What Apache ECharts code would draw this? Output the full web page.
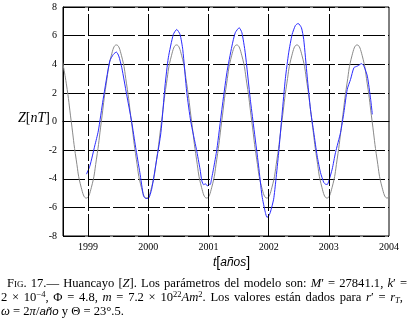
<!DOCTYPE html>
<html>
<head>
<meta charset="utf-8">
<script src="https://cdn.jsdelivr.net/npm/echarts@6/dist/echarts.min.js"></script>
<style>
  body { margin: 0; background: #fff; }
  #wrap { position: relative; width: 413px; height: 325px; }
  #chart { position: absolute; left: 0; top: 0; width: 413px; height: 325px; }
  #caption {
    position: absolute; left: 1px; top: 276px; width: 406px;
    font-family: "Liberation Serif", serif; font-size: 12.6px; line-height: 14px; color: #000;
  }
  #caption .j { text-align: justify; text-align-last: justify; }
  #caption .l1 { padding-left: 6px; }
  #caption .l2 { width: 402px; }
  #caption sup, #caption sub { font-size: 8.5px; line-height: 0; position: relative; vertical-align: baseline; }
  #caption sup { top: -4px; }
  #caption sub { top: 2px; }
  #caption .sc { font-variant: small-caps; }
  #caption .ss { font-family: "Liberation Sans", sans-serif; font-style: italic; font-size: 11.5px; }
</style>
</head>
<body>
<div id="wrap">
  <div id="chart"></div>
  <div id="caption">
    <div class="j l1"><span class="sc">Fig.</span> 17.— Huancayo [<i>Z</i>]. Los parámetros del modelo son: <i>M</i>′ = 27841.1, <i>k</i>′ =</div>
    <div class="j l2">2 × 10<sup>−4</sup>, Φ = 4.8, <i>m</i> = 7.2 × 10<sup>22</sup><i>Am</i><sup>2</sup>. Los valores están dados para <i>r</i>′ = <i>r<sub>T</sub></i>,</div>
    <div><i>ω</i> = 2<i>π</i>/<span class="ss">año</span> y Θ = 23°.5.</div>
  </div>
</div>
<script>
// ejes
const xTickLabels = [1999, 2000, 2001, 2002, 2003, 2004]
const yTickLabels = [-8, -6, -4, -2, 0, 2, 4, 6, 8]

// curva del modelo (gris)
const modelT = [
  1998.553, 1998.637, 1998.72, 1998.803, 1998.887,
  1998.97, 1999.053, 1999.137, 1999.22, 1999.303, 1999.387, 1999.47, 1999.553, 1999.637, 1999.72, 1999.803, 1999.887,
  1999.97, 2000.053, 2000.137, 2000.22, 2000.303, 2000.387, 2000.47, 2000.553, 2000.637, 2000.72, 2000.803, 2000.887,
  2000.97, 2001.053, 2001.137, 2001.22, 2001.303, 2001.387, 2001.47, 2001.553, 2001.637, 2001.72, 2001.803, 2001.887,
  2001.97, 2002.053, 2002.137, 2002.22, 2002.303, 2002.387, 2002.47, 2002.553, 2002.637, 2002.72, 2002.803, 2002.887,
  2002.97, 2003.053, 2003.137, 2003.22, 2003.303, 2003.387, 2003.47, 2003.553, 2003.637, 2003.72, 2003.803, 2003.887,
  2003.97, 2004.053
]
const modelZ = [
  4.63, 2.68, 0, -2.68, -4.63,
  -5.35, -4.63, -2.68, 0, 2.68, 4.63, 5.35, 4.63, 2.68, 0, -2.68, -4.63,
  -5.35, -4.63, -2.68, 0, 2.68, 4.63, 5.35, 4.63, 2.68, 0, -2.68, -4.63,
  -5.35, -4.63, -2.68, 0, 2.68, 4.63, 5.35, 4.63, 2.68, 0, -2.68, -4.63,
  -5.35, -4.63, -2.68, 0, 2.68, 4.63, 5.35, 4.63, 2.68, 0, -2.68, -4.63,
  -5.35, -4.63, -2.68, 0, 2.68, 4.63, 5.35, 4.63, 2.68, 0, -2.68, -4.63,
  -5.35, -4.63
]

// datos observados (azul)
const obsT = [
  1998.973, 1999.03, 1999.11, 1999.17, 1999.25, 1999.36, 1999.42, 1999.47, 1999.51, 1999.56, 1999.64, 1999.723, 1999.79, 1999.86, 1999.92, 1999.95, 2000.0,
  2000.056, 2000.14, 2000.21, 2000.278, 2000.333, 2000.416, 2000.473, 2000.528, 2000.573, 2000.64, 2000.706, 2000.8, 2000.86, 2000.89, 2000.92, 2000.95, 2000.98, 2001.01, 2001.03,
  2001.056, 2001.083, 2001.14, 2001.223, 2001.306, 2001.39, 2001.445, 2001.511, 2001.556, 2001.611, 2001.695, 2001.75, 2001.833, 2001.89, 2001.945, 2001.973, 2002.0, 2002.028,
  2002.083, 2002.12, 2002.166, 2002.223, 2002.278, 2002.333, 2002.39, 2002.445, 2002.49, 2002.545, 2002.583, 2002.64, 2002.695, 2002.75, 2002.806, 2002.861, 2002.916, 2002.945, 2002.975,
  2003.0, 2003.056, 2003.111, 2003.195, 2003.25, 2003.306, 2003.361, 2003.417, 2003.473, 2003.545, 2003.583, 2003.64, 2003.695, 2003.723
]
const obsZ = [
  -3.68, -3.1, -1.71, -0.66, 1.55, 4.22, 4.69, 4.85, 4.57, 3.76, 1.9, 0, -1.8, -3.57, -5.19, -5.36, -5.38,
  -4.73, -2.64, -0.77, 2.48, 4.45, 6.08, 6.43, 6.08, 5.03, 2.02, 0, -1.95, -3.33, -4.15, -4.42, -4.35, -4.5, -4.38, -4.4,
  -3.91, -3.33, -1.94, 0.85, 3.41, 5.27, 6.2, 6.55, 6.2, 4.8, 1.55, -0.31, -3.1, -5.2, -6.35, -6.7, -6.6, -6.35,
  -5.43, -4.1, -2.2, 0.5, 3.0, 4.8, 6.08, 6.71, 6.85, 6.55, 5.73, 3.17, 0.85, -0.77, -2.4, -3.56, -4.26, -4.38, -4.4,
  -4.15, -3.33, -2.17, -0.77, 0.62, 2.25, 2.94, 3.76, 3.87, 4.04, 3.87, 3.17, 1.55, 0.5
]

const chart = echarts.init(document.getElementById('chart'))
const dash = [22, 3]
const serif = '"Liberation Serif", serif'

const option = {
  animation: false,
  backgroundColor: '#fff',
  grid: {
    left: 63, right: 24, top: 7, bottom: 89,
    show: true, borderColor: '#000', borderWidth: 1,
  },
  xAxis: {
    type: 'value',
    min: 1998.583,
    max: 2004,
    axisLine: { show: true, lineStyle: { color: '#000', width: 1 } },
    axisTick: { show: false },
    splitLine: { show: false },
    axisLabel: {
      customValues: xTickLabels,
      formatter: v => String(Math.round(v)),
      color: '#000', fontFamily: serif, fontSize: 10, margin: 6,
    },
  },
  yAxis: {
    type: 'value',
    min: yTickLabels[0],
    max: yTickLabels[yTickLabels.length - 1],
    interval: 2,
    axisLine: { show: true, lineStyle: { color: '#000', width: 1 } },
    axisTick: { show: false },
    splitLine: { show: true, lineStyle: { color: '#000', width: 1, type: dash } },
    axisLabel: { color: '#000', fontFamily: serif, fontSize: 10, margin: 6 },
  },
  graphic: [
    {
      type: 'text', x: 18, y: 118,
      style: {
        text: '{i|Z}{r|[}{i|nT}{r|]}',
        verticalAlign: 'middle',
        rich: {
          i: { fontFamily: serif, fontStyle: 'italic', fontSize: 14, fill: '#000' },
          r: { fontFamily: serif, fontSize: 14, fill: '#000' },
        },
      },
    },
    {
      type: 'text', x: 213, y: 263,
      style: {
        text: '{i|t}{r|[}{i|años}{r|]}',
        verticalAlign: 'middle',
        rich: {
          i: { fontFamily: '"Liberation Sans", sans-serif', fontStyle: 'italic', fontSize: 12, fill: '#000' },
          r: { fontFamily: '"Liberation Sans", sans-serif', fontSize: 14, fill: '#000' },
        },
      },
    },
  ],
  series: [
    {
      type: 'line',
      data: modelT.map((t, i) => [t, modelZ[i]]),
      showSymbol: false,
      smooth: 0.5,
      lineStyle: { color: '#8a8a8a', width: 1 },
      markLine: {
        silent: true,
        symbol: 'none',
        label: { show: false },
        lineStyle: { color: '#000', width: 1, type: dash },
        data: xTickLabels.slice(0, -1).map(v => ({ xAxis: v })),
      },
    },
    {
      type: 'line',
      data: obsT.map((t, i) => [t, obsZ[i]]),
      showSymbol: false,
      smooth: 0.2,
      lineStyle: { color: '#2a2aff', width: 1 },
    },
  ],
}
chart.setOption(option)
</script>
</body>
</html>
